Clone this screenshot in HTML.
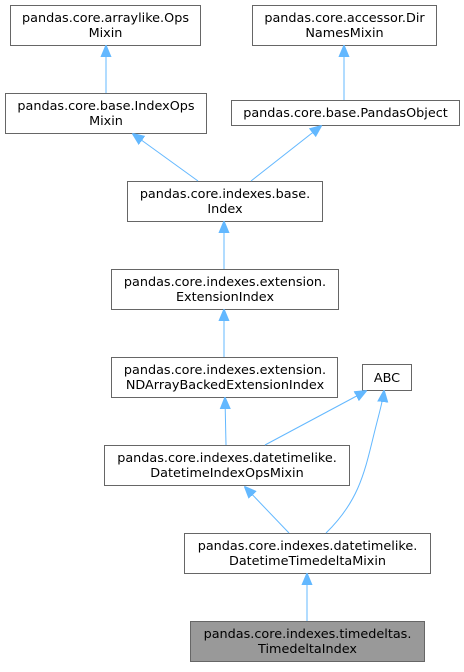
<!DOCTYPE html>
<html><head><style>
html,body{margin:0;padding:0;background:#fff;}
svg text{font-family:"DejaVu Sans","Liberation Sans",sans-serif;font-size:12.8px;fill:#000;text-anchor:middle;}
</style></head><body>
<svg width="464" height="667" viewBox="0 0 464 667" xmlns="http://www.w3.org/2000/svg">
<defs>
<marker id="a" markerWidth="12" markerHeight="12" refX="11" refY="6" orient="auto" markerUnits="userSpaceOnUse">
<path d="M0,1 L12,6 L0,11 Z" fill="#63b8ff" stroke="#63b8ff"/>
</marker>
</defs>
<g fill="#fff" stroke="#666" stroke-width="1">
<rect x="10.5" y="5.5" width="190" height="40"/>
<rect x="252.5" y="5.5" width="184" height="40"/>
<rect x="5.5" y="93.5" width="201" height="40"/>
<rect x="231.5" y="100.5" width="228" height="25"/>
<rect x="127.5" y="181.5" width="195" height="40"/>
<rect x="111.5" y="269.5" width="227" height="40"/>
<rect x="111.5" y="357.5" width="226" height="40"/>
<rect x="362.5" y="364.5" width="49" height="26"/>
<rect x="104.5" y="445.5" width="245" height="40"/>
<rect x="184.5" y="533.5" width="246" height="40"/>
<rect x="190.5" y="621.5" width="234" height="40" fill="#999"/>
</g>
<g fill="none" stroke="#63b8ff" stroke-width="1">
<path d="M106,93 L106,46" marker-end="url(#a)"/>
<path d="M344,100 L344,46" marker-end="url(#a)"/>
<path d="M198,181 L133,134" marker-end="url(#a)"/>
<path d="M251,181 L321,126" marker-end="url(#a)"/>
<path d="M224,269 L224,222" marker-end="url(#a)"/>
<path d="M224,357 L224,310" marker-end="url(#a)"/>
<path d="M226,445 L225,398" marker-end="url(#a)"/>
<path d="M265,445 L366,391" marker-end="url(#a)"/>
<path d="M289,533 L245,487" marker-end="url(#a)"/>
<path d="M326,533 C360,500 365,470 375,430 C380,410 383,400 384,391" marker-end="url(#a)"/>
<path d="M307,621 L307,574" marker-end="url(#a)"/>
</g>
<text x="105.5" y="22">pandas.core.arraylike.Ops</text>
<text x="105.5" y="37">Mixin</text>
<text x="344.5" y="22">pandas.core.accessor.Dir</text>
<text x="344.5" y="37">NamesMixin</text>
<text x="106" y="110">pandas.core.base.IndexOps</text>
<text x="106" y="125">Mixin</text>
<text x="345.5" y="117">pandas.core.base.PandasObject</text>
<text x="225" y="198">pandas.core.indexes.base.</text>
<text x="225" y="213">Index</text>
<text x="225" y="286">pandas.core.indexes.extension.</text>
<text x="225" y="301">ExtensionIndex</text>
<text x="225" y="374">pandas.core.indexes.extension.</text>
<text x="225" y="389">NDArrayBackedExtensionIndex</text>
<text x="387" y="382">ABC</text>
<text x="227" y="462">pandas.core.indexes.datetimelike.</text>
<text x="227" y="477">DatetimeIndexOpsMixin</text>
<text x="307.5" y="550">pandas.core.indexes.datetimelike.</text>
<text x="307.5" y="565">DatetimeTimedeltaMixin</text>
<text x="307.5" y="638">pandas.core.indexes.timedeltas.</text>
<text x="307.5" y="653">TimedeltaIndex</text>
</svg>
</body></html>
